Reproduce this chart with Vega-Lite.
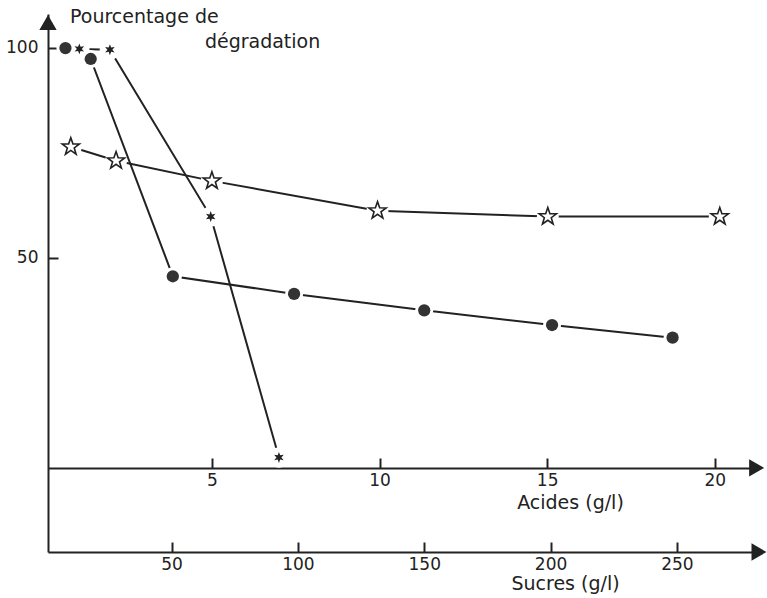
{
  "$schema": "https://vega.github.io/schema/vega-lite/v6.json",
  "autosize": "none",
  "width": 712,
  "height": 538,
  "padding": {"left": 48, "top": 14, "right": 7, "bottom": 46},
  "background": "white",
  "config": {
    "view": {"stroke": null},
    "axis": {
      "grid": false,
      "domainColor": "#222",
      "domainWidth": 2,
      "tickColor": "#222",
      "tickWidth": 2,
      "labelColor": "#222",
      "labelFont": "DejaVu Sans",
      "labelFontSize": 17,
      "titleColor": "#222",
      "titleFont": "DejaVu Sans",
      "titleFontSize": 19,
      "titleFontWeight": "normal"
    }
  },
  "datasets": {
    "circles": [
      {"sucres": 8, "pct": 99.9},
      {"sucres": 18, "pct": 97.3},
      {"sucres": 50.5, "pct": 45.6},
      {"sucres": 98.5, "pct": 41.4},
      {"sucres": 150, "pct": 37.5},
      {"sucres": 200.6, "pct": 34.0},
      {"sucres": 248.3, "pct": 31.0}
    ],
    "stars6": [
      {"sucres": 13.5, "pct": 99.7},
      {"sucres": 25.6, "pct": 99.5},
      {"sucres": 65.5, "pct": 59.8},
      {"sucres": 92.5, "pct": 2.5}
    ],
    "stars5": [
      {"acides": 0.79, "pct": 76.4},
      {"acides": 2.14, "pct": 73.1},
      {"acides": 5.0, "pct": 68.3},
      {"acides": 9.94, "pct": 61.2},
      {"acides": 15.02, "pct": 59.8},
      {"acides": 20.15, "pct": 59.8}
    ],
    "arrowsS": [
      {"sucres": 1.1, "pct": 106, "dir": "up"},
      {"sucres": 282.5, "pct": -20, "dir": "right"}
    ],
    "arrowsA": [
      {"acides": 21.25, "pct": 0}
    ],
    "labels": [
      {"label": "Pourcentage de", "sucres": 9.8, "pct": 107.4},
      {"label": "dégradation", "sucres": 63.2, "pct": 101.4}
    ]
  },
  "encoding": {
    "y": {
      "field": "pct", "type": "quantitative",
      "scale": {"domain": [-20, 108], "nice": false, "zero": false},
      "axis": {
        "orient": "left", "values": [50, 100], "tickSize": -10,
        "labelPadding": 20, "title": null
      }
    }
  },
  "layer": [
    {
      "data": {"name": "circles"},
      "mark": {"type": "line", "color": "#222", "strokeWidth": 2},
      "encoding": {
        "x": {
          "field": "sucres", "type": "quantitative",
          "scale": {"domain": [1.1, 282.9], "nice": false, "zero": false},
          "axis": {
            "orient": "bottom", "values": [50, 100, 150, 200, 250],
            "tickSize": -10, "labelPadding": 14,
            "title": "Sucres (g/l)", "titleX": 517, "titlePadding": 2
          }
        }
      }
    },
    {
      "data": {"name": "stars6"},
      "mark": {"type": "line", "color": "#222", "strokeWidth": 2},
      "encoding": {
        "x": {"field": "sucres", "type": "quantitative", "scale": {"domain": [1.1, 282.9], "nice": false, "zero": false}, "axis": null}
      }
    },
    {
      "data": {"name": "stars5"},
      "mark": {"type": "line", "color": "#222", "strokeWidth": 2},
      "encoding": {
        "x": {
          "field": "acides", "type": "quantitative",
          "scale": {"domain": [0.11, 21.35], "nice": false, "zero": false},
          "axis": {
            "orient": "bottom", "offset": -84, "values": [5, 10, 15, 20],
            "tickSize": -10, "labelPadding": 14,
            "title": "Acides (g/l)", "titleX": 522, "titlePadding": 5
          }
        }
      }
    },
    {
      "data": {"name": "circles"},
      "mark": {"type": "point", "shape": "circle", "filled": true, "color": "white", "opacity": 1, "size": 330},
      "encoding": {
        "x": {"field": "sucres", "type": "quantitative", "scale": {"domain": [1.1, 282.9], "nice": false, "zero": false}, "axis": null}
      }
    },
    {
      "data": {"name": "stars6"},
      "mark": {"type": "point", "shape": "circle", "filled": true, "color": "white", "opacity": 1, "size": 420},
      "encoding": {
        "x": {"field": "sucres", "type": "quantitative", "scale": {"domain": [1.1, 282.9], "nice": false, "zero": false}, "axis": null}
      }
    },
    {
      "data": {"name": "stars5"},
      "mark": {"type": "point", "shape": "circle", "filled": true, "color": "white", "opacity": 1, "size": 480},
      "encoding": {
        "x": {"field": "acides", "type": "quantitative", "scale": {"domain": [0.11, 21.35], "nice": false, "zero": false}, "axis": null}
      }
    },
    {
      "data": {"name": "circles"},
      "mark": {"type": "point", "shape": "circle", "filled": true, "color": "#333", "opacity": 1, "size": 150},
      "encoding": {
        "x": {"field": "sucres", "type": "quantitative", "scale": {"domain": [1.1, 282.9], "nice": false, "zero": false}, "axis": null}
      }
    },
    {
      "data": {"name": "stars6"},
      "mark": {"type": "point", "shape": "M0,-1L0.225,-0.39L0.866,-0.5L0.45,0L0.866,0.5L0.225,0.39L0,1L-0.225,0.39L-0.866,0.5L-0.45,0L-0.866,-0.5L-0.225,-0.39Z", "filled": true, "color": "#222", "opacity": 1, "size": 120},
      "encoding": {
        "x": {"field": "sucres", "type": "quantitative", "scale": {"domain": [1.1, 282.9], "nice": false, "zero": false}, "axis": null}
      }
    },
    {
      "data": {"name": "stars5"},
      "mark": {"type": "point", "shape": "M0,-1L0.235,-0.324L0.951,-0.309L0.38,0.124L0.588,0.809L0,0.4L-0.588,0.809L-0.38,0.124L-0.951,-0.309L-0.235,-0.324Z", "filled": false, "color": "#222", "fill": "white", "fillOpacity": 1, "strokeWidth": 1.6, "opacity": 1, "size": 330},
      "encoding": {
        "x": {"field": "acides", "type": "quantitative", "scale": {"domain": [0.11, 21.35], "nice": false, "zero": false}, "axis": null}
      }
    },
    {
      "data": {"name": "arrowsS"},
      "mark": {"type": "point", "filled": true, "color": "#222", "opacity": 1, "size": 300},
      "encoding": {
        "x": {"field": "sucres", "type": "quantitative", "scale": {"domain": [1.1, 282.9], "nice": false, "zero": false}, "axis": null},
        "shape": {"field": "dir", "type": "nominal", "scale": {"domain": ["up", "right"], "range": ["triangle-up", "triangle-right"]}, "legend": null}
      }
    },
    {
      "data": {"name": "arrowsA"},
      "mark": {"type": "point", "shape": "triangle-right", "filled": true, "color": "#222", "opacity": 1, "size": 300},
      "encoding": {
        "x": {"field": "acides", "type": "quantitative", "scale": {"domain": [0.11, 21.35], "nice": false, "zero": false}, "axis": null}
      }
    },
    {
      "data": {"name": "labels"},
      "mark": {"type": "text", "align": "left", "baseline": "middle", "font": "DejaVu Sans", "fontSize": 19, "color": "#222"},
      "encoding": {
        "x": {"field": "sucres", "type": "quantitative", "scale": {"domain": [1.1, 282.9], "nice": false, "zero": false}, "axis": null},
        "text": {"field": "label"}
      }
    }
  ],
  "resolve": {"scale": {"x": "independent"}, "axis": {"x": "independent"}}
}
